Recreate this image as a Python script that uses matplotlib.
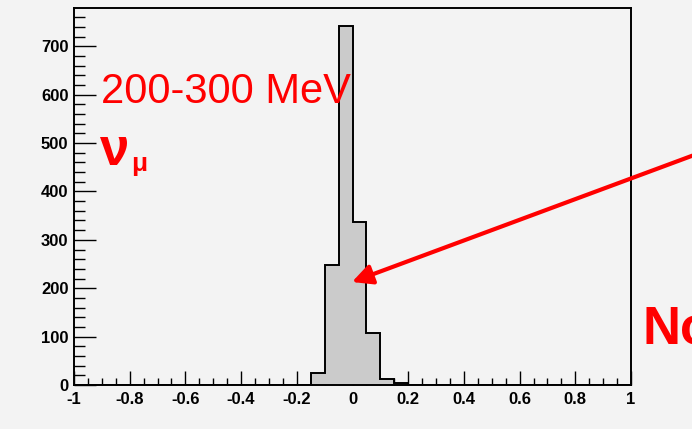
import numpy as np
import matplotlib
matplotlib.use("Agg")
import matplotlib.pyplot as plt
from matplotlib.ticker import MultipleLocator, FixedFormatter, FixedLocator

# Histogram: 40 bins from -1 to 1
bin_edges = np.linspace(-1.0, 1.0, 41)
counts = np.zeros(40)
counts[17:24] = [25, 248, 742, 337, 108, 12, 4]

x_ticks = [-1, -0.8, -0.6, -0.4, -0.2, 0, 0.2, 0.4, 0.6, 0.8, 1]
x_tick_labels = ["-1", "-0.8", "-0.6", "-0.4", "-0.2", "0", "0.2", "0.4", "0.6", "0.8", "1"]
y_ticks = [0, 100, 200, 300, 400, 500, 600, 700]
y_tick_labels = ["0", "100", "200", "300", "400", "500", "600", "700"]

energy_label = "200-300 MeV"

W, H, DPI = 692, 429, 100
bg = "#f3f3f3"
fig = plt.figure(figsize=(W / DPI, H / DPI), dpi=DPI, facecolor=bg)
ax = fig.add_axes([74 / W, 44 / H, (631 - 74) / W, (421 - 44) / H], facecolor=bg)

ax.stairs(counts, bin_edges, fill=True, color="#cbcbcb", zorder=2)
ax.stairs(counts, bin_edges, color="black", linewidth=1.4, zorder=3)

ax.set_xlim(-1, 1)
ax.set_ylim(0, counts.max() * 1.05)

for s in ax.spines.values():
    s.set_linewidth(1.4)
    s.set_color("black")

ax.xaxis.set_major_locator(FixedLocator(x_ticks))
ax.xaxis.set_major_formatter(FixedFormatter(x_tick_labels))
ax.xaxis.set_minor_locator(MultipleLocator(0.05))
ax.yaxis.set_major_locator(FixedLocator(y_ticks))
ax.yaxis.set_major_formatter(FixedFormatter(y_tick_labels))
ax.yaxis.set_minor_locator(MultipleLocator(20))

ax.tick_params(axis="x", which="major", direction="in", length=10, width=1,
               pad=5, top=False, labelsize=12)
ax.tick_params(axis="x", which="minor", direction="in", length=5, width=1, top=False)
ax.tick_params(axis="y", which="major", direction="in", length=16, width=1,
               pad=4, right=False, labelsize=12)
ax.tick_params(axis="y", which="minor", direction="in", length=8, width=1, right=False)
for lbl in ax.get_xticklabels() + ax.get_yticklabels():
    lbl.set_fontfamily("Liberation Sans")
    lbl.set_fontweight("bold")

red = "#ff0000"

def px(x, y):
    """Figure pixel position (from top-left) to figure fraction."""
    return x / W, 1 - y / H

fig.text(*px(101, 103), energy_label, color=red, fontsize=30,
         family="Liberation Sans", ha="left", va="baseline")
fig.text(*px(100, 165), "ν", color=red, fontsize=38, fontweight="bold",
         family="Liberation Sans", ha="left", va="baseline")
fig.text(*px(131, 171), "μ", color=red, fontsize=19, fontweight="bold",
         family="Liberation Sans", ha="left", va="baseline")
fig.text(*px(642, 343), "No", color=red, fontsize=38, fontweight="bold",
         family="Liberation Sans", ha="left", va="baseline")

# Pointer arrow coming in from the right edge
fig.patches.append(matplotlib.patches.FancyArrowPatch(
    px(740, 138), px(352, 282), transform=fig.transFigure,
    arrowstyle="-|>,head_length=12,head_width=6", mutation_scale=1,
    color=red, linewidth=3.0, shrinkA=0, shrinkB=0, zorder=10))

fig.savefig("out.png", dpi=DPI, facecolor=bg)
